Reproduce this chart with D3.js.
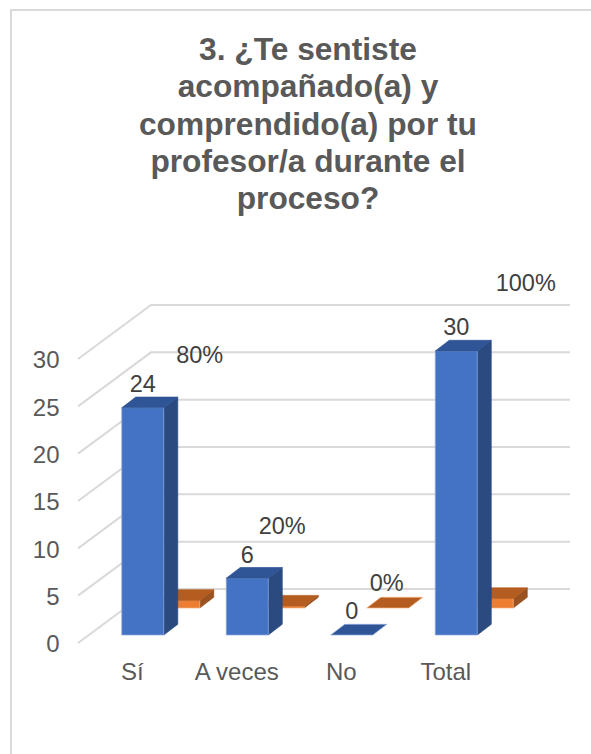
<!DOCTYPE html>
<html><head><meta charset="utf-8">
<script src="https://cdn.jsdelivr.net/npm/d3@7/dist/d3.min.js"></script>
<style>
html,body{margin:0;padding:0;background:#fff;overflow:hidden}
text{font-family:"Liberation Sans",Arial,sans-serif}
</style></head><body>
<svg id="c" width="591" height="754"></svg>
<script>
const titleLines = ["3. ¿Te sentiste","acompañado(a) y","comprendido(a) por tu","profesor/a durante el","proceso?"];
const categories = ["Sí","A veces","No","Total"];
const counts = [24,6,0,30];
const shares = [0.8,0.2,0,1];
const shareLabels = ["80%","20%","0%","100%"];
const yTicks = [0,5,10,15,20,25,30];

const svg = d3.select("#c");
const x = d3.scaleBand().domain(categories).range([80,498]);
const y = d3.scaleLinear().domain([0,30]).range([635,351]);
const floorDrop = 8, wallRise = 46;   // depth from bar plane to walls
const barW = 42, depthX = 14, depthY = 10.7;
const blueDX = -10.5, orangeDX = 25.5, orangeLift = 27;
const blue = {front:"#4472C4", top:"#2F5597", side:"#2A4A80", edge:"#8FAADC"};
const orange = {front:"#ED7D31", top:"#B55D20", side:"#9A5220", edge:"#F4B183"};

// frame
svg.append("path").attr("d","M591,10H11V754").attr("fill","none").attr("stroke","#d9d9d9").attr("stroke-width",2);

// title
svg.append("g").selectAll("text").data(titleLines).join("text")
  .attr("x",308).attr("y",(d,i)=>60+i*37.3).attr("text-anchor","middle")
  .attr("font-size",31.7).attr("font-weight","bold").attr("fill","#595959").text(d=>d);

// gridlines: back wall plus side wall
const grid = svg.append("g").attr("fill","none").attr("stroke","#d9d9d9").attr("stroke-width",2);
grid.selectAll("path").data(yTicks).join("path")
  .attr("d",v=>`M78,${y(v)+floorDrop}L151,${y(v)-wallRise}H570`);

// axes
const yAxis = d3.axisLeft(y).tickValues(yTicks).tickSize(0).tickPadding(0);
const yG = svg.append("g").attr("transform",`translate(59.5,${floorDrop+1})`).call(yAxis);
const xAxis = d3.axisBottom(x).tickSize(0).tickPadding(0);
const xG = svg.append("g").attr("transform","translate(0,663)").call(xAxis);
[yG,xG].forEach(g=>{
  g.select(".domain").remove();
  g.selectAll("text").attr("font-size",24).attr("font-family",'"Liberation Sans",Arial,sans-serif').attr("fill","#595959");
});

// 3D bar
function bar(g,x0,base,h,c){
  const t = base-h, r = x0+barW;
  const poly = (pts,fill,stroke)=>g.append("polygon").attr("points",pts.map(p=>p.join(",")).join(" "))
    .attr("fill",fill).attr("stroke",stroke).attr("stroke-width",0.7).attr("stroke-linejoin","round");
  if(h>0){
    poly([[r,base],[r+depthX,base-depthY],[r+depthX,t-depthY],[r,t]],c.side,c.side);
    poly([[x0,base],[r,base],[r,t],[x0,t]],c.front,c.edge);
  }
  poly([[x0,t],[r,t],[r+depthX,t-depthY],[x0+depthX,t-depthY]],c.top,h>0?c.top:c.edge);
}
const marks = svg.append("g");
const pxPerUnit = y(0)-y(1);
categories.forEach((cat,i)=>{
  const cx = x(cat)+x.bandwidth()/2;
  bar(marks.append("g"),cx+orangeDX,y(0)-orangeLift,shares[i]*pxPerUnit,orange);
});
categories.forEach((cat,i)=>{
  const cx = x(cat)+x.bandwidth()/2;
  bar(marks.append("g"),cx+blueDX,y(0),counts[i]*pxPerUnit,blue);
});

// data labels
const labels = svg.append("g").attr("text-anchor","middle").attr("font-size",23.5).attr("fill","#404040");
categories.forEach((cat,i)=>{
  const cx = x(cat)+x.bandwidth()/2;
  labels.append("text").attr("x",cx+10.5).attr("y",y(counts[i])-15.7).text(counts[i]);
});
const shareY = d3.scaleLinear().domain([0,0.8,1]).range([590.7,363,290.7]);
const shareNudge = d3.scaleThreshold().domain([0.5,0.9]).range([-1,21,33.5]);
categories.forEach((cat,i)=>{
  const cx = x(cat)+x.bandwidth()/2;
  labels.append("text").attr("x",cx+orangeDX+barW/2+shareNudge(shares[i])).attr("y",shareY(shares[i])).text(shareLabels[i]);
});
</script>
</body></html>
